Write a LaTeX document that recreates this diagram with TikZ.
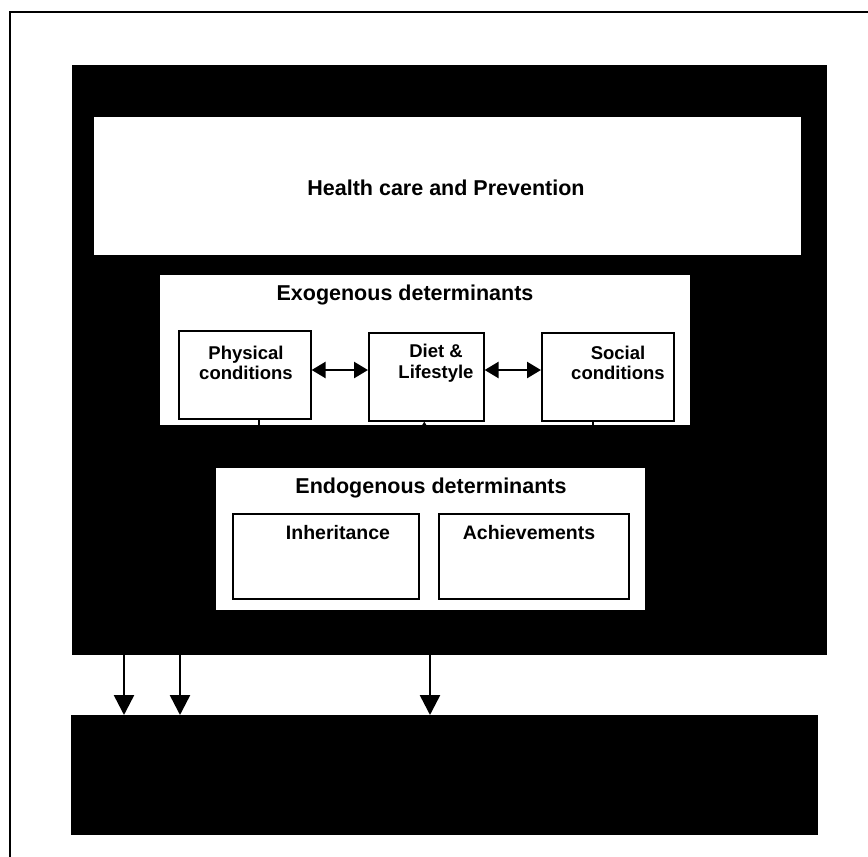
\documentclass[tikz,border=0pt]{standalone}
\usepackage{fontspec}
\setmainfont{Liberation Sans}
\usetikzlibrary{arrows.meta}
\begin{document}
\begin{tikzpicture}[x=1pt,y=-1pt,
 blk/.style={draw=none,fill=black,inner sep=0,anchor=north west},
 wbox/.style={draw=black,line width=1.6pt,fill=white,inner sep=0,anchor=north west},
 pane/.style={draw=none,fill=white,inner sep=0,anchor=north west},
 ttl/.style={font=\fontsize{21.5}{25}\selectfont\bfseries,inner sep=0},
 lbl/.style={font=\fontsize{18.5}{20.5}\selectfont\bfseries,align=center,inner sep=0},
 sub/.style={font=\fontsize{19.5}{23}\selectfont\bfseries,inner sep=0},
 stub/.style={line width=1.5pt},
 dbl/.style={{Triangle[length=14pt,width=16pt]}-{Triangle[length=14pt,width=16pt]},line width=2.5pt},
 down/.style={-{Triangle[length=20pt,width=20pt]},line width=2.5pt}]
\useasboundingbox (0,0) rectangle (868,857);
\fill[white] (0,0) rectangle (868,857);
\draw[line width=2pt] (10,857) -- (10,12) -- (868,12);
% black container
\node[blk,minimum width=755pt,minimum height=590pt] (big) at (72,65) {};
% health care
\node[pane,minimum width=707pt,minimum height=138pt] (health) at (94,117) {};
\node[ttl] (healthT) at (446,188) {Health care and Prevention};
% exogenous
\node[pane,minimum width=530pt,minimum height=150pt] (exo) at (160,275) {};
\node[ttl] (exoT) at (405,295) {Exogenous determinants};
\node[wbox,minimum width=132pt,minimum height=88pt] (phys) at (178,330) {};
\node[wbox,minimum width=115pt,minimum height=88pt] (diet) at (368,332) {};
\node[wbox,minimum width=132pt,minimum height=88pt] (social) at (541,332) {};
\node[lbl] (physT) at (246,363) {Physical\\conditions};
\node[lbl] (dietT) at (436,363) {Diet \&\\Lifestyle};
\node[lbl] (socialT) at (618,363) {Social\\conditions};
\coordinate (r1) at (phys.east |- 0,370);
\coordinate (r2) at (diet.east |- 0,370);
\draw[dbl] (r1) -- (diet.west |- r1);
\draw[dbl] (r2) -- (social.west |- r2);
\draw[stub] ([xshift=14pt]phys.south) -- ([xshift=14pt]phys.south |- exo.south);
\draw[stub,{Triangle[length=6pt,width=7pt]}-] ([xshift=-2pt]diet.south) -- ([xshift=-2pt]diet.south |- exo.south);
\draw[stub] ([xshift=-15pt]social.south) -- ([xshift=-15pt]social.south |- exo.south);
% endogenous
\node[pane,minimum width=429pt,minimum height=142pt] (endo) at (216,468) {};
\node[ttl] (endoT) at (431,488) {Endogenous determinants};
\node[wbox,minimum width=186pt,minimum height=85pt] (inh) at (232,513) {};
\node[wbox,minimum width=190pt,minimum height=85pt] (ach) at (438,513) {};
\node[sub] (inhT) at (338,533) {Inheritance};
\node[sub] (achT) at (529,533) {Achievements};
% bottom box
\node[blk,minimum width=747pt,minimum height=120pt] (bottom) at (71,715) {};
\coordinate (a1) at (124,655);
\coordinate (a2) at (180,655);
\coordinate (a3) at (430,655);
\draw[down] (a1) -- (a1 |- bottom.north);
\draw[down] (a2) -- (a2 |- bottom.north);
\draw[down] (a3) -- (a3 |- bottom.north);
\end{tikzpicture}
\end{document}
